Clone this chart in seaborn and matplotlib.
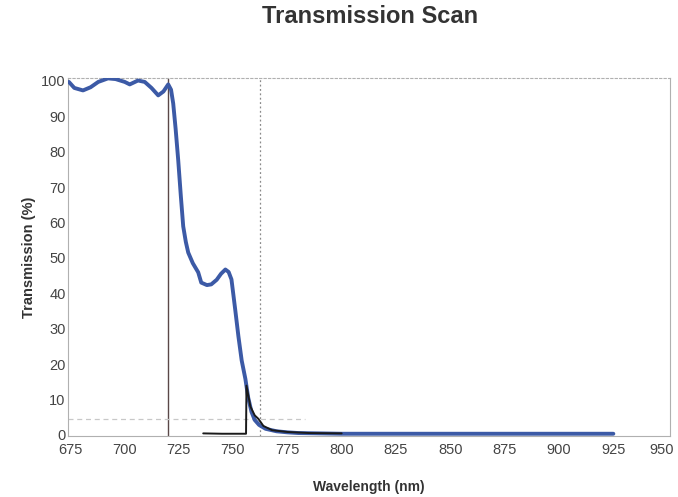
import matplotlib
matplotlib.use("Agg")
import matplotlib.pyplot as plt
import matplotlib.transforms as mtransforms
import seaborn as sns
import pandas as pd

# Blue scan
wl_scan = [674.5, 677, 681, 684.5, 688, 692.5, 696, 700.2, 702.5, 706.3, 709.4, 712.5, 715.6, 718, 720.2,
           721.5, 722.5, 723.6, 724.8, 726, 727.1, 728.3, 729.4, 731.5, 734, 735.4, 738, 740, 742.5, 744.5,
           746.5, 748, 749.3, 751, 752.5, 754, 755.7, 757, 758.5, 760, 762, 765, 770, 775, 780, 790, 800,
           825, 850, 875, 900, 925]
t_scan = [99.7, 98.0, 97.3, 98.2, 99.7, 100.7, 100.5, 99.7, 99.0, 100.1, 99.7, 98.0, 95.9, 97.0, 99.0,
          97.5, 93.6, 86.5, 77.6, 67.5, 58.9, 54.5, 51.5, 48.5, 45.9, 43.0, 42.3, 42.5, 43.8, 45.5,
          46.7, 46.0, 43.9, 35.5, 27.8, 21.0, 15.8, 10.5, 6.5, 4.2, 2.8, 1.7, 1.0, 0.7, 0.5, 0.4, 0.3,
          0.3, 0.3, 0.3, 0.3, 0.3]

# Black trace
wl_ref = [736.3, 745, 756.0, 756.2, 758, 760, 761.7, 764, 768, 775, 785, 800]
t_ref = [0.4, 0.3, 0.3, 13.9, 8.0, 5.5, 4.5, 2.5, 1.3, 0.8, 0.5, 0.4]

x_ticks = [675, 700, 725, 750, 775, 800, 825, 850, 875, 900, 925, 950]
y_ticks = [0, 10, 20, 30, 40, 50, 60, 70, 80, 90, 100]
marker_lines = [720, 762.5]
level_line = 4.5

sns.set_style("white")
plt.rcParams['font.family'] = ['Liberation Sans', 'DejaVu Sans']

fig = plt.figure(figsize=(6.78, 4.97), dpi=100)
ax = fig.add_axes([0.100, 0.123, 0.888, 0.72])

df_scan = pd.DataFrame({"wl": wl_scan, "t": t_scan})
df_ref = pd.DataFrame({"wl": wl_ref, "t": t_ref})

ax.axvline(marker_lines[0], color="#5a4848", lw=1.0, zorder=1)
ax.axvline(marker_lines[1], color="#8a8a8a", lw=0.9, ls=(0, (1.5, 2)), zorder=1)
ax.plot([674, 783], [level_line, level_line], color="#c8c8c8", lw=0.9, ls=(0, (4, 3)), zorder=1)

sns.lineplot(data=df_scan, x="wl", y="t", ax=ax, color="#3c5aa6", lw=2.8, sort=False, zorder=3)
sns.lineplot(data=df_ref, x="wl", y="t", ax=ax, color="#1a1a1a", lw=1.4, sort=False, zorder=4)

ax.set_xlim(674, 951)
ax.set_ylim(-0.3, 100.8)
ax.set_xticks(x_ticks)
ax.set_yticks(y_ticks)
ax.tick_params(axis="both", labelsize=10.5, labelcolor="#444444", length=0)
ax.tick_params(axis="x", pad=5)
ax.tick_params(axis="y", pad=1.5)

# nudge the last x tick label inward so it stays inside the figure
last = ax.get_xticklabels()[-1]
last.set_transform(last.get_transform() + mtransforms.ScaledTranslation(-6 / 100, 0, fig.dpi_scale_trans))

for s in ax.spines.values():
    s.set_color("#b0b0b0")
    s.set_linewidth(0.8)
ax.spines["top"].set_linestyle((0, (2, 2)))

ax.set_xlabel("Wavelength (nm)", fontsize=10, fontweight="bold", color="#333333", labelpad=17)
ax.set_ylabel("Transmission (%)", fontsize=10.5, fontweight="bold", color="#333333", labelpad=4)
fig.text(0.546, 0.966, "Transmission Scan", fontsize=17, fontweight="bold", color="#333333",
         ha="center", va="center")

fig.savefig("out.png", dpi=100)
